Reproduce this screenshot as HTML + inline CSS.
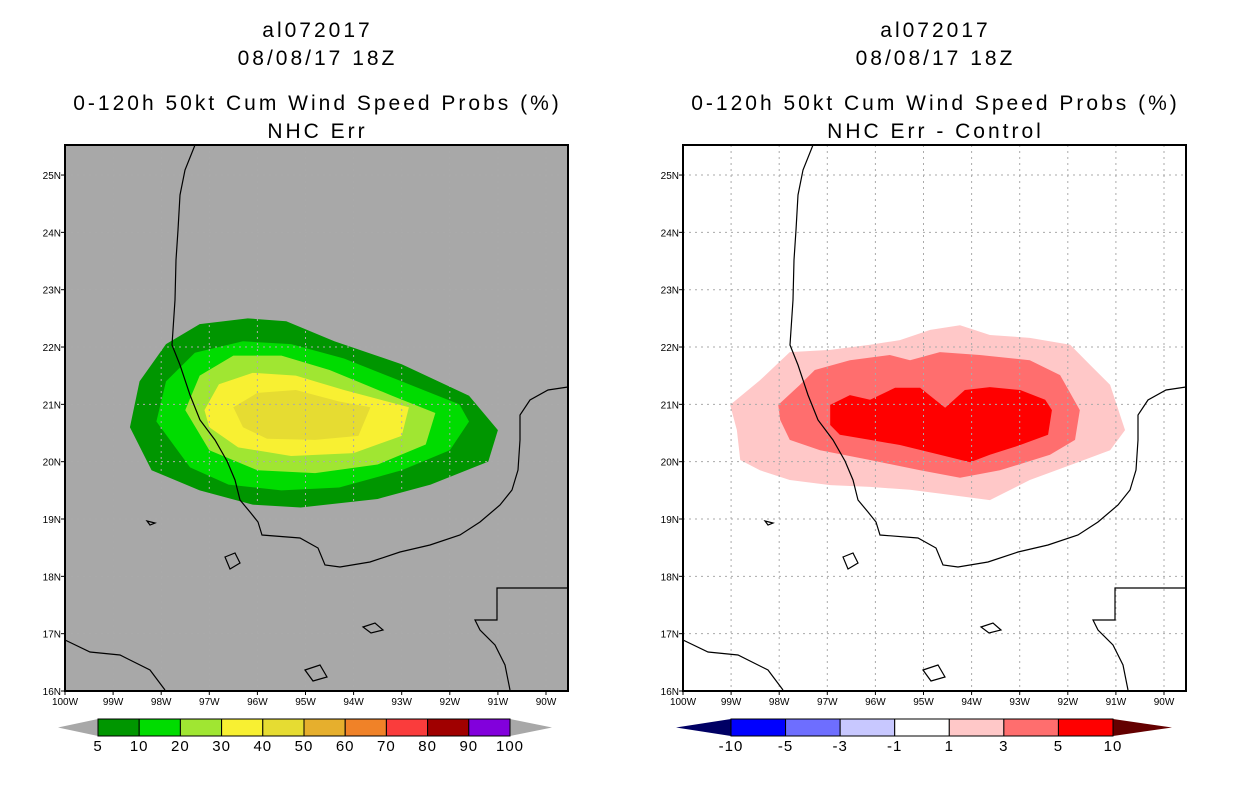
<!DOCTYPE html>
<html><head><meta charset="utf-8">
<style>
body{margin:0;background:#fff;width:1236px;height:800px;overflow:hidden;font-family:"Liberation Sans",sans-serif}
svg text{font-family:"Liberation Sans",sans-serif}
</style></head>
<body>
<svg id="chart" width="1236" height="800" viewBox="0 0 1236 800" xmlns="http://www.w3.org/2000/svg"></svg>
<script>
// ---- data ----
const lonTicks=[-100,-99,-98,-97,-96,-95,-94,-93,-92,-91,-90];
const lonLabels=["100W","99W","98W","97W","96W","95W","94W","93W","92W","91W","90W"];
const latTicks=[16,17,18,19,20,21,22,23,24,25];
const latLabels=["16N","17N","18N","19N","20N","21N","22N","23N","24N","25N"];
const leftLevels=["5","10","20","30","40","50","60","70","80","90","100"];
const leftColors=["#009600","#00dc00","#a0e632","#f8f032","#e6dc32","#e6af2d","#f08228","#fa3c3c","#a00000","#8200dc"];
const rightLevels=["-10","-5","-3","-1","1","3","5","10"];
const rightColors=["#0000ff","#6e6eff","#c8c8ff","#ffffff","#ffc8c8","#ff6e6e","#ff0000"];
// contour polygons [lon,lat]
const prob5=[[-98.65,20.6],[-98.45,21.4],[-97.9,22.05],[-97.2,22.4],[-96.2,22.5],[-95.4,22.45],[-94.4,22.1],[-93.0,21.7],[-91.6,21.15],[-91.0,20.55],[-91.2,20.0],[-92.4,19.6],[-93.5,19.35],[-95.1,19.2],[-96.1,19.25],[-97.2,19.5],[-98.2,19.85]];
const prob10=[[-98.1,20.7],[-97.9,21.4],[-97.3,21.9],[-96.3,22.1],[-95.3,22.05],[-94.2,21.8],[-93.0,21.4],[-91.8,21.0],[-91.6,20.7],[-92.0,20.2],[-93.0,19.85],[-94.3,19.55],[-95.5,19.5],[-96.6,19.6],[-97.4,19.9]];
const prob20=[[-97.5,20.9],[-97.2,21.5],[-96.5,21.85],[-95.5,21.85],[-94.5,21.6],[-93.2,21.15],[-92.3,20.85],[-92.5,20.3],[-93.5,19.95],[-94.8,19.8],[-96.0,19.85],[-97.0,20.2]];
const prob30=[[-97.1,20.9],[-96.8,21.35],[-96.1,21.55],[-95.2,21.5],[-94.2,21.25],[-92.85,20.95],[-93.0,20.45],[-94.0,20.15],[-95.3,20.1],[-96.4,20.25],[-97.0,20.6]];
const prob40=[[-96.5,20.95],[-96.0,21.2],[-95.2,21.25],[-94.3,21.05],[-93.65,20.95],[-93.9,20.45],[-94.8,20.38],[-95.8,20.4],[-96.3,20.6]];
const diff1=[[-99.02,20.99],[-98.40,21.42],[-97.78,21.91],[-96.94,21.95],[-96.11,22.04],[-95.49,22.12],[-94.86,22.30],[-94.24,22.38],[-93.62,22.21],[-92.79,22.16],[-91.95,22.04],[-91.54,21.69],[-91.12,21.34],[-90.81,20.55],[-91.12,20.20],[-91.95,19.94],[-92.79,19.68],[-93.62,19.33],[-94.45,19.42],[-95.28,19.51],[-96.11,19.56],[-96.94,19.59],[-97.78,19.68],[-98.40,19.85],[-98.81,20.03],[-98.88,20.55]];
const diff3=[[-98.02,20.99],[-97.57,21.34],[-97.26,21.60],[-96.53,21.77],[-95.70,21.86],[-95.28,21.77],[-94.66,21.91],[-93.83,21.86],[-92.79,21.77],[-92.16,21.51],[-91.75,20.90],[-91.85,20.38],[-92.37,20.12],[-93.41,19.85],[-94.24,19.72],[-95.07,19.85],[-96.11,20.03],[-97.15,20.20],[-97.78,20.38],[-97.98,20.73]];
const diff5=[[-96.94,20.99],[-96.53,21.16],[-96.11,21.08],[-95.59,21.29],[-95.07,21.29],[-94.55,20.94],[-94.14,21.25],[-93.62,21.30],[-92.99,21.25],[-92.47,21.08],[-92.33,20.90],[-92.41,20.47],[-92.99,20.29],[-93.62,20.12],[-94.03,19.99],[-94.66,20.12],[-95.49,20.29],[-96.11,20.38],[-96.74,20.47],[-96.94,20.64]];
// basemap coastline (pixel offsets relative to plot origin)
const coast=[[130,0],[120,25],[115,50],[113,85],[111,115],[110,155],[108,185],[107,200],[115,220],[125,250],[135,275],[150,295],[162,316],[170,335],[175,355],[185,367],[193,377],[197,390],[235,393],[253,403],[260,420],[275,422],[305,417],[335,407],[365,400],[395,390],[415,377],[435,360],[447,345],[453,325],[455,295],[455,270],[465,255],[483,245],[503,242]];
const coast2=[[503,443],[432,443],[432,475],[410,475],[415,485],[430,500],[440,520],[445,545]];
const coast3=[[0,495],[25,507],[55,510],[85,525],[100,545]];
const islands=[[[160,412],[170,408],[175,418],[165,424]],[[298,482],[310,478],[318,485],[306,488]],[[240,525],[255,520],[262,532],[248,536]],[[82,376],[90,378],[85,380]]];

const NS="http://www.w3.org/2000/svg";
const svg=document.getElementById('chart');
function mk(tag,attrs,parent){const e=document.createElementNS(NS,tag);for(const k in attrs)e.setAttribute(k,attrs[k]);(parent||svg).appendChild(e);return e;}
const Y0=145,Y1=691,PW=503;
function xScale(x0){return lon=>x0+(lon+100)*48.1;}
const yScale=lat=>691-(lat-16)*57.33;

function panel(x0,name,bg,fields,titles,cbar){
  const g=mk('g',{});
  
  
  const xs=xScale(x0);
  const cx=x0+PW/2+1;
  const tl=[30,58,103,131];
  titles.forEach((t,i)=>{const e=mk('text',{x:cx,y:tl[i]+7,'text-anchor':'middle','font-size':'21','letter-spacing':'3'},g);e.textContent=t;
    
    });
  const clip=mk('clipPath',{id:'clip'+x0},g);
  mk('rect',{x:x0,y:Y0,width:PW,height:Y1-Y0},clip);
  const bgR=mk('rect',{x:x0,y:Y0,width:PW,height:Y1-Y0,fill:bg},g);
  
  
  const cg=mk('g',{'clip-path':'url(#clip'+x0+')'},g);
  fields.forEach(f=>{
    const p=mk('polygon',{points:f.pts.map(q=>xs(q[0])+','+yScale(q[1])).join(' '),fill:f.color},cg);
    
    
  });
  // grid
  lonTicks.forEach(l=>{mk('line',{x1:xs(l),x2:xs(l),y1:Y0,y2:Y1,stroke:'#aaa','stroke-dasharray':'2,4','stroke-width':1},cg);});
  latTicks.forEach(l=>{mk('line',{x1:x0,x2:x0+PW,y1:yScale(l),y2:yScale(l),stroke:'#aaa','stroke-dasharray':'2,4','stroke-width':1},cg);});
  // coast
  const tr=mk('g',{transform:'translate('+x0+','+Y0+')',fill:'none',stroke:'#000','stroke-width':1.2},cg);
  
  
  [coast,coast2,coast3].forEach(c=>mk('polyline',{points:c.map(q=>q.join(',')).join(' ')},tr));
  islands.forEach(c=>mk('polygon',{points:c.map(q=>q.join(',')).join(' ')},tr));
  const fr=mk('rect',{x:x0,y:Y0,width:PW,height:Y1-Y0,fill:'none',stroke:'#000','stroke-width':2},g);
  
  
  lonTicks.forEach((l,i)=>{const x=xs(l);mk('line',{x1:x,x2:x,y1:Y1,y2:Y1+4,stroke:'#000'},g);
    const t=mk('text',{x:x,y:Y1+14,'text-anchor':'middle','font-size':'10'},g);t.textContent=lonLabels[i];
    
    });
  latTicks.forEach((l,i)=>{const y=yScale(l);mk('line',{x1:x0-4,x2:x0,y1:y,y2:y,stroke:'#000'},g);
    const t=mk('text',{x:x0-4,y:y+4,'text-anchor':'end','font-size':'10'},g);t.textContent=latLabels[i];
    
    });
  // colorbar
  const cb=mk('g',{},g);
  
  
  const n=cbar.colors.length, bw=(cbar.x1-cbar.x0)/n, yt=719, yb=736, ym=727.5;
  mk('polygon',{points:`${cbar.x0},${yt} ${cbar.x0},${yb} ${cbar.tx0},${ym}`,fill:cbar.lo},cb);
  mk('polygon',{points:`${cbar.x1},${yt} ${cbar.x1},${yb} ${cbar.tx1},${ym}`,fill:cbar.hi},cb);
  cbar.colors.forEach((c,i)=>{const r=mk('rect',{x:cbar.x0+i*bw,y:yt,width:bw,height:yb-yt,fill:c,stroke:'#000','stroke-width':1},cb);
    
    });
  const labs=cbar.labels, off=cbar.labOff;
  labs.forEach((s,i)=>{const t=mk('text',{x:cbar.x0+(i+off)*bw,y:751,'text-anchor':'middle','font-size':'15','letter-spacing':'1'},cb);t.textContent=s;
    
    });
}
panel(65,'left-panel-probabilities','#a8a8a8',[
  {pts:prob5,color:leftColors[0],name:'contour-5pct'},
  {pts:prob10,color:leftColors[1],name:'contour-10pct'},
  {pts:prob20,color:leftColors[2],name:'contour-20pct'},
  {pts:prob30,color:leftColors[3],name:'contour-30pct'},
  {pts:prob40,color:leftColors[4],name:'contour-40pct'}],
  ['al072017','08/08/17 18Z','0-120h 50kt Cum Wind Speed Probs (%)','NHC Err'],
  {x0:98,x1:510,tx0:58,tx1:552,colors:leftColors,lo:'#a8a8a8',hi:'#a8a8a8',labels:leftLevels,labOff:0});
panel(683,'right-panel-difference','#ffffff',[
  {pts:diff1,color:rightColors[4],name:'contour-diff-1'},
  {pts:diff3,color:rightColors[5],name:'contour-diff-3'},
  {pts:diff5,color:rightColors[6],name:'contour-diff-5'}],
  ['al072017','08/08/17 18Z','0-120h 50kt Cum Wind Speed Probs (%)','NHC Err - Control'],
  {x0:731,x1:1113,tx0:676,tx1:1172,colors:rightColors,lo:'#000064',hi:'#640000',labels:rightLevels,labOff:0});
</script>
</body></html>
